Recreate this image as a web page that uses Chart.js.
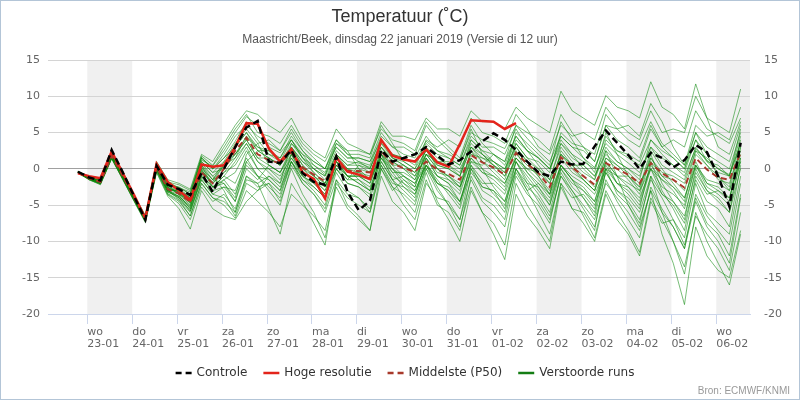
<!DOCTYPE html>
<html>
<head>
<meta charset="utf-8">
<script src="https://cdn.jsdelivr.net/npm/chart.js@4.4.1/dist/chart.umd.min.js"></script>
<style>
  html, body { margin: 0; padding: 0; background: #fff; }
  #wrap { position: relative; width: 800px; height: 400px; box-sizing: border-box; border: 1px solid #b3c5d7; }
</style>
</head>
<body>
<div id="wrap"><canvas id="pluim"></canvas></div>
<script>
// time axis: hours relative to wo 23-01 00:00, first step 22-01 19:00, one step every 6 hours
const firstStep = -5;
const stepHours = 6;
const dayLabels = [
  ['wo', '23-01'], ['do', '24-01'], ['vr', '25-01'], ['za', '26-01'], ['zo', '27-01'],
  ['ma', '28-01'], ['di', '29-01'], ['wo', '30-01'], ['do', '31-01'], ['vr', '01-02'],
  ['za', '02-02'], ['zo', '03-02'], ['ma', '04-02'], ['di', '05-02'], ['wo', '06-02']
];
const yTicks = [15, 10, 5, 0, -5, -10, -15, -20];

const titel = 'Temperatuur (˚C)';
const subtitel = 'Maastricht/Beek, dinsdag 22 januari 2019 (Versie di 12 uur)';
const bron = 'Bron: ECMWF/KNMI';

// values per step; after the first value, rows are days (01h, 07h, 13h, 19h)
const controle = [-0.4,
  -1.2, -1.6, 2.6, -0.5,
  -3.8, -7.0, 0.4, -2.2,
  -2.8, -3.6, -0.6, -3.2,
  0.0, 3.0, 5.7, 6.6,
  1.0, 0.8, 2.6, -0.6,
  -1.8, -2.2, 1.7, -3.2,
  -5.7, -4.4, 2.6, 1.0,
  1.5, 2.0, 3.0, 1.8,
  0.6, 1.2, 2.4, 3.8,
  4.9, 4.0, 2.6, 1.0,
  -0.5, -1.0, 1.0, 0.6,
  0.7, 3.1, 5.3, 3.6,
  1.9, 0.0, 2.2, 1.5,
  0.2, 1.2, 3.3, 2.3,
  -1.0, -5.2, 3.6];

const hogeResolutie = [-0.6,
  -1.0, -1.3, 2.4, -0.6,
  -3.6, -6.8, 0.7, -1.8,
  -3.0, -4.3, 0.6, 0.3,
  0.5, 3.0, 6.3, 6.2,
  2.8, 1.0, 2.7, -0.5,
  -1.4, -4.1, 1.6, -0.4,
  -0.8, -1.4, 4.0, 1.8,
  1.3, 1.0, 2.7, 0.9,
  0.3, 3.4, 6.7, 6.6,
  6.5, 5.5, 6.3];

const middelste = [-0.5,
  -1.3, -1.8, 1.8, -1.0,
  -4.0, -6.8, 0.3, -2.8,
  -3.4, -4.6, -0.5, -2.0,
  0.0, 2.5, 4.3, 2.0,
  1.2, 0.8, 2.3, 0.2,
  -0.8, -1.7, 0.7, -0.3,
  -0.3, -0.5, 2.4, 0.7,
  0.1, -0.4, 1.0, -0.1,
  -0.7, -1.5, 1.9, 0.9,
  0.2, -0.8, 2.2, 0.7,
  -0.6, -2.5, 1.6, 0.2,
  -1.0, -2.2, 0.8, 0.0,
  -0.8, -2.0, 0.8, -0.6,
  -1.5, -2.6, 1.5, -0.1,
  -1.2, -1.5, 2.2];

const run01 = [-0.6,
  -1.2, -1.6, 2.2, -0.6,  -3.8, -6.6, 0.8, -1.8,  -2.6, -3.2, 1.2, 0.4,  2.5, 5.0, 7.2, 6.0,
  3.0, 2.2, 4.0, 1.5,  0.5, -0.8, 2.5, 1.0,  0.8, 0.2, 3.5, 2.0,  1.5, 1.0, 3.8, 2.5,
  2.0, 1.2, 5.0, 4.0,  3.5, 2.8, 6.0, 4.2,  2.5, 1.0, 4.5, 3.0,  1.5, 0.2, 3.5, 2.0,
  0.8, -0.5, 3.0, 1.5,  0.5, -1.0, 2.8, 1.2,  0.0, -0.8, 3.5];
const run02 = [-0.3,
  -1.5, -2.1, 1.5, -1.4,  -4.4, -7.2, -0.2, -3.5,  -4.5, -6.5, -2.0, -4.0,  -5.0, -6.8, -3.0, -4.5,
  -6.0, -8.0, -3.5, -5.0,  -6.5, -8.5, -2.0, -4.0,  -5.0, -6.0, 0.5, -2.5,  -3.5, -5.0, 0.0, -3.0,
  -5.0, -7.0, -1.5, -4.5,  -6.0, -8.0, -1.0, -3.5,  -5.0, -7.5, -0.5, -3.0,  -5.5, -8.0, -1.5, -4.5,
  -7.0, -9.5, -2.5, -5.5,  -8.0, -11.0, -3.5, -6.5,  -8.5, -10.5, -2.0];
const run03 = [-0.5,
  -1.4, -2.0, 1.6, -1.2,  -4.2, -7.0, 0.0, -3.0,  -4.0, -5.8, -1.0, -3.0,  -1.5, -3.5, 0.5, -1.0,
  -2.5, -4.0, 1.0, -1.5,  -3.0, -5.0, 0.0, -2.0,  -2.5, -3.5, 1.5, -1.0,  -2.0, -3.0, 0.5, -2.5,
  -5.0, -8.0, -2.5, -6.0,  -9.0, -12.5, -3.5, -6.5,  -8.5, -11.0, -2.5, -5.5,  -6.0, -8.5, 0.0, -3.5,
  -5.0, -7.5, -1.0, -6.0,  -10.0, -14.5, -6.0, -10.0,  -13.0, -16.0, -9.0];
const run04 = [-0.4,
  -1.0, -1.4, 2.4, -0.4,  -3.6, -6.4, 1.0, -1.5,  -2.0, -2.8, 2.0, 1.0,  3.5, 6.0, 8.0, 7.5,
  6.0, 5.0, 7.0, 4.0,  2.5, 1.5, 5.5, 3.5,  2.8, 2.0, 6.5, 4.5,  4.5, 4.0, 7.0, 5.5,
  5.5, 4.5, 8.0, 6.5,  6.5, 5.5, 8.5, 7.0,  6.0, 5.0, 10.7, 8.0,  7.0, 6.0, 10.1, 8.5,
  8.0, 7.0, 12.0, 8.5,  7.5, 5.5, 11.7, 7.0,  6.0, 5.0, 11.0];
const run05 = [-0.5,
  -1.3, -1.9, 1.7, -1.1,  -4.1, -6.9, 0.2, -2.6,  -3.2, -4.4, 0.0, -1.5,  0.5, 3.0, 5.0, 2.5,
  1.5, 0.5, 2.8, 0.5,  -1.0, -2.5, 1.0, -0.5,  -0.5, -1.0, 3.0, 1.0,  0.0, -1.5, 2.0, 0.0,
  -1.5, -3.0, 2.5, 1.0,  0.0, -1.5, 3.0, 1.0,  -1.0, -3.5, 2.5, 0.5,  -1.5, -3.0, 1.5, 0.0,
  -1.5, -3.5, 1.5, -1.0,  -2.5, -4.5, 2.0, 0.5,  -1.0, -2.5, 4.0];
const run06 = [-0.6,
  -1.4, -1.8, 1.9, -0.9,  -3.9, -6.7, 0.5, -2.2,  -3.6, -5.5, 0.5, -1.0,  -3.0, -6.0, -1.5, -2.0,
  -5.5, -9.0, -2.0, -4.5,  -7.5, -10.5, -1.5, -5.0,  -6.5, -8.5, 0.0, -3.0,  -1.5, -2.5, 3.0, 1.5,
  0.5, -1.0, 4.0, 2.5,  1.0, -0.5, 5.0, 3.5,  2.0, 0.5, 6.5, 4.0,  1.5, -0.5, 5.0, 2.0,
  -1.0, -3.0, 2.0, -2.0,  -4.5, -7.0, 0.0, -3.0,  -4.0, -6.0, 1.5];
const run07 = [-0.4,
  -1.1, -1.7, 2.0, -0.8,  -3.7, -6.8, 0.6, -2.0,  -2.8, -3.8, 1.5, 0.0,  1.5, 3.8, 6.5, 4.0,
  2.0, 1.5, 4.5, 2.5,  0.5, -0.5, 3.0, 1.5,  1.5, 1.0, 5.0, 3.0,  3.0, 2.0, 6.0, 4.0,
  2.5, 1.0, 5.5, 2.0,  0.5, -1.0, 3.5, 1.5,  1.0, -0.5, 5.0, 3.5,  3.0, 2.0, 7.5, 5.5,
  4.0, 3.0, 6.5, 3.5,  2.0, 0.5, 6.0, 4.5,  5.0, 4.0, 8.5];
const run08 = [-0.5,
  -1.5, -2.2, 1.4, -1.5,  -4.5, -7.4, -0.5, -3.8,  -5.5, -8.3, -3.0, -5.5,  -6.5, -7.0, -4.5, -3.0,
  -1.0, -2.0, 3.5, 2.0,  0.0, -1.5, 2.0, 0.0,  -1.5, -3.0, 2.0, -0.5,  -2.5, -4.0, 1.5, -1.0,
  -2.0, -4.5, 0.5, -2.5,  -3.0, -5.5, 1.0, -1.0,  -3.0, -5.0, 0.5, -1.5,  -4.0, -6.5, -0.5, -3.0,
  -4.5, -7.0, -1.5, -4.0,  -7.0, -10.5, -4.0, -7.5,  -9.0, -12.0, -3.5];
const run09 = [-0.5,
  -1.2, -1.8, 1.8, -1.0,  -4.0, -6.8, 0.3, -2.8,  -3.0, -4.0, 0.5, -1.5,  -2.0, -4.0, 2.0, 3.5,
  4.0, 2.5, 5.5, 3.0,  1.5, 0.0, 4.0, 2.5,  0.0, -1.5, 2.5, 0.0,  -2.0, -3.5, 1.0, -2.0,
  -3.0, -5.0, 1.0, 0.5,  2.0, 1.0, 6.0, 5.0,  4.0, 2.5, 7.5, 5.0,  3.0, 1.0, 6.0, 5.5,
  6.0, 4.5, 9.0, 6.5,  3.0, 0.5, 5.0, 2.0,  -1.0, -3.0, 3.0];
const run10 = [-0.4,
  -1.3, -2.0, 1.6, -1.3,  -4.3, -7.1, 0.0, -3.2,  -3.8, -5.2, -0.8, -2.5,  -1.0, -2.0, 1.5, -1.0,
  -3.0, -5.0, 0.5, -2.0,  -3.5, -5.5, -0.5, -3.0,  -4.0, -5.5, 1.0, -1.5,  -3.0, -4.5, 0.5, -1.5,
  -3.5, -5.5, 0.0, -2.0,  -2.0, -3.5, 1.0, -1.5,  -3.5, -6.0, 0.0, -2.5,  -4.0, -6.0, 0.5, -2.0,
  -3.0, -5.0, 0.0, -3.5,  -5.0, -7.5, -1.5, -4.5,  -5.5, -8.0, 0.5];
const run11 = [-0.6,
  -1.3, -1.7, 2.1, -0.8,  -3.8, -6.6, 0.7, -2.3,  -2.5, -3.5, 1.8, 0.5,  3.0, 5.5, 7.5, 5.0,
  4.5, 3.5, 6.0, 3.5,  2.0, 1.0, 4.0, 2.0,  1.0, 0.0, 4.0, 1.5,  0.5, -1.0, 3.0, 0.0,
  -1.0, -2.5, 2.5, 0.0,  -2.5, -4.5, 1.0, -2.0,  -4.5, -7.0, -1.0, -3.5,  -6.5, -9.5, -3.0, -6.0,
  -8.5, -11.5, -4.0, -7.0,  -10.0, -13.5, -6.5, -9.0,  -11.0, -14.0, -6.0];
const run12 = [-0.5,
  -1.2, -1.9, 1.7, -1.0,  -4.0, -6.9, 0.2, -2.5,  -3.5, -4.5, 0.0, -2.5,  -1.0, 1.0, 3.5, 1.0,
  -0.5, -2.0, 1.5, -1.0,  -2.0, -3.5, 0.0, -1.5,  0.5, 0.0, 3.5, 1.5,  1.0, 0.0, 2.5, 0.5,
  0.0, -1.0, 3.0, 2.0,  1.0, 0.0, 4.0, 2.5,  0.5, -1.5, 3.5, 2.0,  0.0, -1.5, 4.0, 2.5,
  2.0, 1.0, 5.5, 3.0,  4.0, 3.0, 8.0, 5.5,  4.5, 3.5, 7.0];
const run13 = [-0.5,
  -1.4, -2.0, 1.5, -1.3,  -4.2, -7.1, 0.1, -3.0,  -4.2, -6.0, -1.5, -3.5,  -4.0, -6.5, -2.0, -3.0,
  -2.0, -4.5, 0.0, -3.5,  -6.0, -9.5, -2.5, -5.5,  -7.0, -8.5, -1.0, -4.5,  -6.0, -8.5, -2.0, -4.0,
  -4.5, -7.0, 0.0, -3.0,  -4.0, -6.0, -0.5, -3.0,  -2.0, -3.5, 2.0, 0.0,  -1.5, -3.0, 2.5, -1.0,
  -5.0, -8.0, -3.0, -9.0,  -13.0, -18.7, -8.0, -12.0,  -14.0, -15.0, -8.5];
const run14 = [-0.4,
  -1.2, -1.7, 2.0, -0.7,  -3.9, -6.7, 0.5, -2.0,  -3.0, -4.2, 1.0, -0.5,  1.0, 3.5, 5.5, 3.5,
  0.5, -0.5, 3.0, 1.0,  -0.5, -2.0, 2.0, 0.5,  1.0, 0.5, 4.5, 3.0,  2.0, 1.5, 4.5, 2.5,
  1.5, 0.5, 4.5, 3.0,  3.0, 2.0, 5.5, 3.0,  1.5, 0.0, 3.5, 1.5,  0.5, -1.0, 3.0, 1.0,
  0.0, -1.5, 4.0, 2.5,  1.5, 0.0, 5.0, 3.0,  2.0, 1.0, 6.0];
const run15 = [-0.5,
  -1.3, -1.8, 1.9, -1.1,  -4.1, -7.0, 0.0, -3.0,  -3.5, -5.0, -0.5, -2.0,  -0.5, 0.5, 3.0, 0.0,
  -1.5, -3.0, 2.0, -1.0,  -2.5, -4.0, 1.0, -1.0,  -2.0, -3.0, 2.0, -1.5,  -4.0, -6.0, -0.5, -4.5,
  -7.0, -10.0, -3.0, -6.0,  -7.5, -10.5, -2.0, -5.0,  -7.5, -10.0, -2.0, -4.0,  -3.5, -5.5, 1.0, -2.0,
  -3.5, -5.5, 1.0, -3.0,  -5.5, -8.5, -1.0, -3.5,  -3.0, -4.5, 3.0];
const run16 = [-0.5,
  -1.4, -1.9, 1.6, -1.2,  -4.2, -6.9, 0.0, -3.0,  -3.8, -5.5, -1.5, -3.5,  -2.5, -4.5, 0.0, -1.5,
  0.5, -0.5, 2.5, 0.0,  -1.5, -3.0, 1.0, -1.0,  -1.0, -2.0, 2.5, 0.5,  -1.0, -2.5, 1.5, -1.0,
  -2.0, -3.5, 1.5, -0.5,  -1.5, -3.0, 1.5, -0.5,  -2.0, -4.0, 0.5, -1.5,  -2.5, -4.5, 0.0, -2.0,
  -2.5, -4.5, 0.5, -1.5,  -3.0, -5.5, 0.5, -2.5,  -3.5, -5.0, 1.0];
const run17 = [-0.5,
  -1.2, -1.7, 2.0, -0.9,  -4.0, -6.8, 0.4, -2.4,  -3.0, -4.0, 1.0, -0.5,  0.0, 2.0, 4.5, 2.5,
  1.5, 0.5, 3.5, 1.5,  0.0, -1.0, 3.5, 2.0,  2.0, 1.5, 6.0, 3.5,  1.0, 0.0, 4.0, 3.0,
  4.0, 3.0, 7.0, 5.0,  4.5, 3.5, 7.5, 5.5,  3.0, 2.0, 6.0, 4.5,  5.0, 4.0, 8.5, 6.5,
  5.0, 4.0, 8.0, 5.0,  5.5, 5.0, 10.0, 7.0,  3.0, 2.0, 6.5];
const run18 = [-0.5,
  -1.3, -1.8, 1.8, -1.0,  -4.0, -6.9, 0.3, -2.7,  -3.4, -4.6, -0.3, -1.8,  0.5, 2.0, 4.0, 1.5,
  0.5, -0.5, 2.0, -0.5,  -1.5, -3.0, 0.5, -1.0,  -1.0, -2.0, 2.0, 0.0,  -1.5, -3.0, 0.5, -2.0,
  -2.5, -4.5, 0.5, -1.5,  -3.5, -5.0, 0.0, -2.5,  -4.0, -6.5, -1.0, -3.0,  -5.0, -7.0, -2.0, -4.0,
  -6.0, -8.5, -3.0, -6.0,  -8.0, -11.0, -4.5, -8.0,  -10.0, -13.0, -4.0];
const run19 = [-0.6,
  -1.5, -2.1, 1.4, -1.5,  -4.4, -7.3, -0.4, -3.6,  -4.8, -7.0, -2.5, -4.5,  -3.5, -5.5, -1.0, -2.5,
  -2.0, -3.5, 1.0, -2.0,  -3.5, -6.0, -1.5, -3.5,  -4.0, -6.0, 0.0, -2.5,  -5.0, -7.0, -1.5, -5.0,
  -6.0, -8.5, -1.0, -4.0,  -5.0, -7.0, 0.0, -3.0,  -6.0, -9.0, -2.0, -5.5,  -7.5, -10.0, -3.5, -7.0,
  -9.0, -12.0, -4.5, -7.5,  -7.0, -9.5, -2.0, -6.0,  -7.5, -9.0, -1.0];
const run20 = [-0.4,
  -1.1, -1.6, 2.3, -0.5,  -3.7, -6.5, 0.9, -1.8,  -2.2, -3.0, 1.6, 0.0,  2.0, 4.5, 6.0, 4.5,
  3.5, 2.5, 5.0, 2.5,  1.0, 0.0, 3.5, 2.5,  2.5, 2.0, 5.5, 4.0,  3.5, 2.5, 6.5, 4.5,
  3.0, 1.5, 6.0, 3.5,  2.0, 0.5, 4.5, 2.5,  1.5, 0.0, 4.5, 3.0,  2.5, 1.0, 6.0, 4.0,
  3.0, 1.5, 6.0, 3.0,  1.5, 0.0, 4.0, 1.0,  0.5, -1.0, 5.5];
const run21 = [-0.5,
  -1.2, -1.8, 1.9, -0.9,  -3.9, -6.8, 0.4, -2.5,  -3.2, -4.5, 0.2, -1.5,  1.0, 2.0, 4.0, 1.5,
  1.5, 0.5, 3.0, 1.0,  0.0, -1.0, 2.0, 0.5,  0.5, -0.5, 3.0, 1.5,  0.5, -0.5, 2.5, 0.5,
  0.0, -1.0, 3.0, 1.5,  0.5, -0.5, 3.5, 1.5,  0.0, -1.5, 3.0, 1.0,  -0.5, -1.5, 2.5, 1.0,
  0.0, -1.0, 3.0, 0.5,  -0.5, -1.5, 3.0, 1.0,  -0.5, -1.0, 3.5];
const run22 = [-0.5,
  -1.4, -1.9, 1.7, -1.2,  -4.1, -7.0, 0.1, -3.0,  -3.8, -5.2, -1.0, -2.5,  -1.5, -0.5, 2.5, 0.0,
  0.0, -1.0, 1.5, -0.5,  -1.5, -2.5, 0.5, -1.0,  -1.0, -1.5, 1.5, 0.0,  -1.0, -2.0, 0.5, -1.0,
  -1.5, -2.5, 1.0, -0.5,  -1.0, -2.0, 1.5, 0.0,  -1.5, -3.5, 0.5, -1.0,  -2.0, -3.5, 0.0, -1.0,
  -2.0, -3.0, 0.0, -1.5,  -2.5, -4.0, 0.5, -1.5,  -2.0, -3.0, 1.0];
const run23 = [-0.4,
  -1.3, -1.7, 1.8, -1.1,  -4.0, -6.9, 0.0, -3.0,  -3.0, -4.8, 0.5, -2.5,  -2.0, -4.5, 1.0, 2.5,
  2.5, 1.0, 4.0, 1.5,  -0.5, -2.0, 1.5, -1.0,  -2.0, -3.0, 1.0, -1.5,  -1.0, -2.0, 2.0, 1.0,
  0.5, -0.5, 3.5, 2.0,  0.5, -1.0, 2.5, -0.5,  -2.5, -5.0, 0.0, -2.0,  -3.0, -4.5, 1.0, -1.0,
  -1.0, -2.5, 2.5, 0.0,  -2.0, -4.0, 1.0, -2.0,  -3.0, -4.0, 2.0];
const run24 = [-0.5,
  -1.2, -1.7, 2.1, -0.8,  -3.8, -6.7, 0.6, -2.1,  -2.9, -4.0, 0.8, -1.0,  0.5, 1.5, 3.5, 1.0,
  0.0, -1.5, 2.0, 0.0,  -1.0, -2.5, 1.5, 0.0,  -0.5, -1.5, 2.0, 0.5,  0.5, -0.5, 2.0, 1.0,
  1.0, 0.0, 3.0, 1.0,  -0.5, -2.0, 1.5, 0.0,  -0.5, -2.0, 2.0, 0.5,  -1.0, -2.5, 1.5, 0.5,
  -0.5, -2.0, 1.0, -1.0,  -1.5, -3.0, 2.5, 1.5,  0.0, -1.0, 4.5];
const run25 = [-0.5,
  -1.4, -2.0, 1.5, -1.4,  -4.3, -7.2, -0.2, -3.4,  -4.3, -6.5, -2.0, -4.0,  -4.5, -6.0, -1.0, -2.0,
  -1.0, -2.5, 1.0, -1.0,  -2.0, -3.5, 0.5, -1.5,  -1.5, -2.5, 1.5, -0.5,  -0.5, -1.5, 2.0, 0.0,
  -1.0, -2.5, 1.5, 0.0,  -1.0, -2.5, 2.0, 0.5,  -1.0, -3.0, 1.5, -0.5,  -1.5, -3.0, 1.0, -1.0,
  -2.5, -4.0, 0.0, -2.5,  -3.5, -5.0, 0.5, -2.0,  -2.5, -4.0, 1.5];
const run26 = [-0.5,
  -1.3, -1.8, 1.8, -1.0,  -4.0, -6.8, 0.3, -2.6,  -3.3, -4.7, -0.2, -2.0,  -0.5, 1.5, 4.5, 3.0,
  2.0, 1.0, 3.0, 0.5,  -1.0, -2.0, 1.0, 0.0,  0.0, -0.5, 3.0, 1.0,  0.0, -1.0, 1.5, -0.5,
  -1.0, -2.0, 2.0, 1.5,  1.0, 0.0, 3.0, 1.0,  0.0, -2.0, 2.0, 0.5,  0.5, -1.0, 2.0, 0.5,
  -1.0, -2.5, 1.5, -0.5,  -1.0, -2.0, 2.5, 0.5,  -1.5, -2.0, 2.5];
const run27 = [-0.5,
  -1.4, -2.0, 1.6, -1.3,  -4.2, -7.0, -0.1, -3.2,  -4.0, -5.8, -1.2, -3.0,  -2.5, -3.0, 1.0, -1.0,
  -1.5, -3.0, 1.0, -1.5,  -2.5, -4.0, 0.0, -2.0,  -2.5, -4.0, 0.5, -2.0,  -2.5, -3.5, 0.0, -2.0,
  -3.0, -4.5, -0.5, -2.5,  -3.0, -4.5, 0.0, -2.0,  -2.5, -4.5, 0.5, -1.5,  -3.0, -5.0, -0.5, -3.0,
  -4.0, -6.0, -1.0, -3.5,  -4.5, -6.5, -0.5, -3.0,  -4.5, -6.0, 0.0];
const run28 = [-0.4,
  -1.1, -1.6, 2.2, -0.7,  -3.7, -6.6, 0.7, -2.0,  -2.6, -3.5, 1.5, 0.0,  1.5, 3.0, 5.0, 3.0,
  2.5, 1.5, 4.0, 2.0,  1.0, 0.0, 3.0, 1.5,  1.5, 1.0, 4.0, 2.0,  1.5, 0.5, 3.5, 2.0,
  1.5, 0.5, 4.0, 2.5,  2.0, 1.0, 4.5, 2.5,  1.5, 0.0, 4.0, 2.0,  1.0, 0.0, 4.5, 2.5,
  1.5, 0.5, 4.0, 2.0,  0.5, -0.5, 4.0, 2.0,  1.0, 0.0, 5.0];
const verstoordeRuns = [run01, run02, run03, run04, run05, run06, run07, run08, run09, run10,
  run11, run12, run13, run14, run15, run16, run17, run18, run19, run20,
  run21, run22, run23, run24, run25, run26, run27, run28];

function toPoints(values) {
  return values.map((v, i) => ({ x: firstStep + i * stepHours, y: v }));
}

const datasets = [
  { label: 'Controle', data: toPoints(controle), borderColor: '#000000', borderWidth: 2.5,
    borderDash: [7, 4], order: 0, legend: true },
  { label: 'Hoge resolutie', data: toPoints(hogeResolutie), borderColor: '#e3241b', borderWidth: 2.5,
    order: 1, legend: true },
  { label: 'Middelste (P50)', data: toPoints(middelste), borderColor: '#a8392b', borderWidth: 2,
    borderDash: [6, 4], order: 2, legend: true }
];
verstoordeRuns.forEach((run, k) => {
  datasets.push({
    label: 'Verstoorde runs', data: toPoints(run), borderColor: 'rgba(10,135,10,0.55)',
    legendColor: 'rgb(20,125,20)', borderWidth: 1, order: 3, legend: k === 0
  });
});

const dayBands = {
  id: 'dayBands',
  beforeDraw(chart) {
    const { ctx, chartArea: a, scales: { x } } = chart;
    ctx.save();
    ctx.fillStyle = '#f0f0f0';
    dayLabels.forEach((d, i) => {
      if (i % 2) return;
      const x0 = Math.max(x.getPixelForValue(i * 24), a.left);
      const x1 = Math.min(x.getPixelForValue(i * 24 + 24), a.right);
      if (x1 > x0) ctx.fillRect(x0, a.top, x1 - x0, a.bottom - a.top);
    });
    ctx.restore();
  }
};

const texts = {
  id: 'texts',
  afterDraw(chart) {
    const ctx = chart.ctx;
    const w = chart.width;
    ctx.save();
    ctx.textBaseline = 'middle';
    ctx.textAlign = 'center';
    ctx.fillStyle = '#333333';
    ctx.font = '18px "Liberation Sans", Arial, sans-serif';
    ctx.fillText(titel, w / 2, 16);
    ctx.fillStyle = '#555555';
    ctx.font = '12px "Liberation Sans", Arial, sans-serif';
    ctx.fillText(subtitel, w / 2, 39);

    // legend
    ctx.font = '12px "DejaVu Sans", sans-serif';
    ctx.textAlign = 'left';
    const items = chart.data.datasets.filter(d => d.legend);
    const symW = 16, gap = 5, itemGap = 16;
    const widths = items.map(d => symW + gap + ctx.measureText(d.label).width);
    const total = widths.reduce((a, b) => a + b, 0) + itemGap * (items.length - 1);
    let lx = 404 - total / 2;
    const ly = 372;
    items.forEach((d, i) => {
      ctx.beginPath();
      ctx.setLineDash(d.borderDash ? [6, 4] : []);
      ctx.lineWidth = 2.5;
      ctx.strokeStyle = d.legendColor || d.borderColor;
      ctx.moveTo(lx, ly);
      ctx.lineTo(lx + symW, ly);
      ctx.stroke();
      ctx.setLineDash([]);
      ctx.fillStyle = '#333333';
      ctx.fillText(d.label, lx + symW + gap, ly);
      lx += widths[i] + itemGap;
    });

    ctx.textAlign = 'right';
    ctx.fillStyle = '#999999';
    ctx.font = '10px "Liberation Sans", Arial, sans-serif';
    ctx.fillText(bron, w - 9, 390);
    ctx.restore();
  }
};

const axisFont = { family: '"DejaVu Sans", sans-serif', size: 11 };

new Chart(document.getElementById('pluim'), {
  type: 'line',
  data: { datasets },
  options: {
    responsive: true,
    maintainAspectRatio: false,
    animation: false,
    layout: { padding: { top: 59, bottom: 45, left: 0, right: 0 } },
    elements: { point: { radius: 0 }, line: { tension: 0 } },
    plugins: { legend: { display: false }, tooltip: { enabled: false }, title: { display: false } },
    scales: {
      x: {
        type: 'linear', min: -21, max: 354,
        afterBuildTicks: s => { s.ticks = dayLabels.map((d, i) => ({ value: i * 24 })); },
        afterFit: s => { s.height = 40; },
        grid: { drawOnChartArea: false, drawTicks: true, tickLength: 10, color: '#ccd6eb' },
        border: { color: '#ccd6eb' },
        ticks: {
          align: 'start', maxRotation: 0, autoSkip: false, padding: 2, color: '#666666',
          font: { ...axisFont, lineHeight: 1.1 },
          callback: (v, i) => dayLabels[i]
        }
      },
      y: {
        position: 'left', min: -20, max: 15,
        afterBuildTicks: s => { s.ticks = yTicks.map(v => ({ value: v })); },
        afterFit: s => { s.width = 47; },
        grid: { color: c => (c.tick && c.tick.value === 0) ? '#a0a0a0' : '#d4d4d4', drawTicks: false },
        border: { display: false },
        ticks: { padding: 8, color: '#666666', font: axisFont }
      },
      y2: {
        position: 'right', min: -20, max: 15,
        afterBuildTicks: s => { s.ticks = yTicks.map(v => ({ value: v })); },
        afterFit: s => { s.width = 49; },
        grid: { display: false, drawTicks: false },
        border: { display: false },
        ticks: { padding: 14, color: '#666666', font: axisFont }
      }
    }
  },
  plugins: [dayBands, texts]
});
</script>
</body>
</html>
